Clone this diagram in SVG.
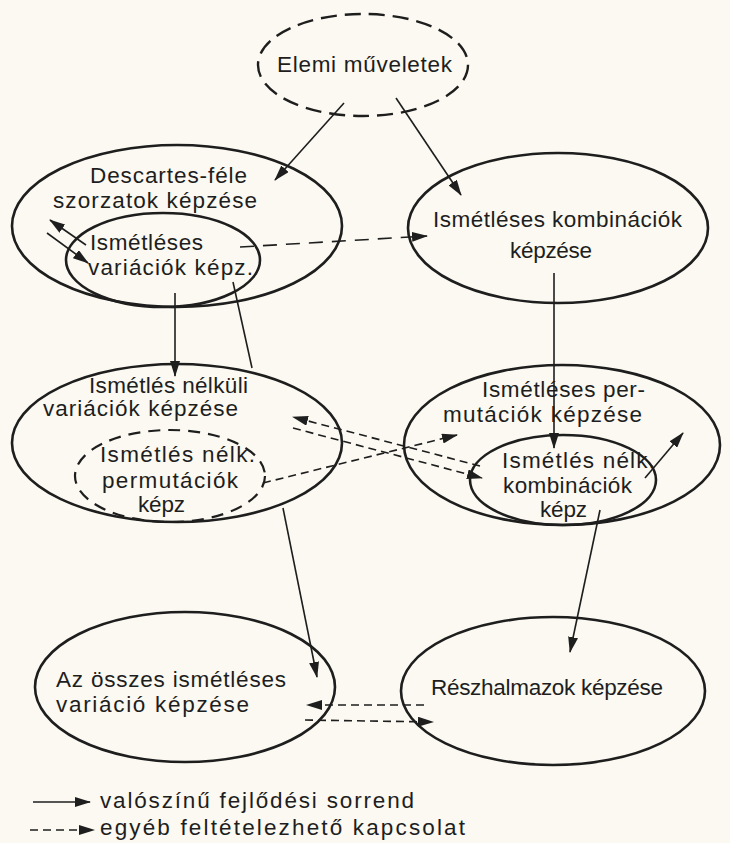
<svg xmlns="http://www.w3.org/2000/svg" width="730" height="843" viewBox="0 0 730 843">
<defs>
<style>
.bg{fill:#fbf9f1}
.n{fill:none;stroke:#1e1e1e;stroke-width:2.6}
.nd{fill:none;stroke:#1e1e1e;stroke-width:2.4;stroke-dasharray:16 8}
.nd2{fill:none;stroke:#1e1e1e;stroke-width:2.2;stroke-dasharray:12 8}
.c{fill:none;stroke:#1e1e1e;stroke-width:1.6;marker-end:url(#ah)}
.p{fill:none;stroke:#1e1e1e;stroke-width:1.6}
.cd{fill:none;stroke:#1e1e1e;stroke-width:1.6;stroke-dasharray:14 9;marker-end:url(#ah)}
.cs{fill:none;stroke:#1e1e1e;stroke-width:1.6;stroke-dasharray:8 5;marker-end:url(#ah)}
text{font-family:"Liberation Sans","DejaVu Sans",Arial,sans-serif;font-size:22.5px;fill:#1e1e1e}
</style>
<marker id="ah" markerUnits="userSpaceOnUse" markerWidth="16" markerHeight="10" refX="15" refY="5" orient="auto">
<path d="M0,0 L16,5 L0,10 z" fill="#1e1e1e"/>
</marker>
</defs>
<rect class="bg" x="0" y="0" width="730" height="843"/>

<g id="elemi">
<ellipse class="nd" cx="363" cy="65" rx="105" ry="51"/>
<text x="277" y="72" textLength="175" lengthAdjust="spacing">Elemi műveletek</text>
</g>

<g id="descartes">
<ellipse class="n" cx="177" cy="226" rx="165" ry="81"/>
<text x="90" y="183" textLength="157" lengthAdjust="spacing">Descartes-féle</text>
<text x="53" y="208" textLength="204" lengthAdjust="spacing">szorzatok képzése</text>
</g>

<g id="ism-variaciok">
<ellipse class="n" cx="163" cy="260" rx="97" ry="47"/>
<text x="90" y="250" textLength="113" lengthAdjust="spacing">Ismétléses</text>
<text x="88" y="275" textLength="165" lengthAdjust="spacing">variációk képz.</text>
</g>

<g id="ism-kombinaciok">
<ellipse class="n" cx="558" cy="228" rx="150" ry="75"/>
<text x="433" y="227" textLength="249" lengthAdjust="spacing">Ismétléses kombinációk</text>
<text x="510" y="258" textLength="82" lengthAdjust="spacing">képzése</text>
</g>

<g id="nelkuli-variaciok">
<ellipse class="n" cx="177" cy="443" rx="165" ry="79"/>
<text x="89" y="393" textLength="159" lengthAdjust="spacing">Ismétlés nélküli</text>
<text x="43" y="416" textLength="195" lengthAdjust="spacing">variációk képzése</text>
</g>

<g id="nelk-permutaciok">
<ellipse class="nd2" cx="170" cy="476" rx="95" ry="46"/>
<text x="100" y="462" textLength="155" lengthAdjust="spacing">Ismétlés nélk.</text>
<text x="102" y="488" textLength="136" lengthAdjust="spacing">permutációk</text>
<text x="138" y="512" textLength="47" lengthAdjust="spacing">képz</text>
</g>

<g id="ism-permutaciok">
<ellipse class="n" cx="562" cy="445" rx="158" ry="80"/>
<text x="482" y="397" textLength="163" lengthAdjust="spacing">Ismétléses per-</text>
<text x="443" y="422" textLength="199" lengthAdjust="spacing">mutációk képzése</text>
</g>

<g id="nelk-kombinaciok">
<ellipse class="n" cx="563" cy="480" rx="93" ry="45"/>
<text x="502" y="468" textLength="153" lengthAdjust="spacing">Ismétlés nélk.</text>
<text x="503" y="493" textLength="129" lengthAdjust="spacing">kombinációk</text>
<text x="540" y="517" textLength="47" lengthAdjust="spacing">képz</text>
</g>

<g id="osszes">
<ellipse class="n" cx="185" cy="687" rx="150" ry="75"/>
<text x="56" y="687" textLength="230" lengthAdjust="spacing">Az összes ismétléses</text>
<text x="56" y="712" textLength="193" lengthAdjust="spacing">variáció képzése</text>
</g>

<g id="reszhalmazok">
<ellipse class="n" cx="553" cy="691" rx="152" ry="74"/>
<text x="431" y="695" textLength="232" lengthAdjust="spacing">Részhalmazok képzése</text>
</g>

<g id="connectors">
<line class="c" x1="344" y1="103" x2="275" y2="180"/>
<line class="c" x1="396" y1="98" x2="461" y2="195"/>
<line class="c" x1="86" y1="245" x2="50" y2="220"/>
<line class="c" x1="47" y1="233" x2="88" y2="263"/>
<line class="cd" x1="240" y1="247" x2="427" y2="236"/>
<line class="c" x1="175" y1="293" x2="175" y2="376"/>
<line class="p" x1="233" y1="282" x2="252" y2="368"/>
<line class="c" x1="554" y1="273" x2="554" y2="448"/>
<line class="cs" x1="480" y1="466" x2="293" y2="417"/>
<line class="cs" x1="293" y1="428" x2="482" y2="478"/>
<line class="cs" x1="263" y1="483" x2="457" y2="435"/>
<line class="c" x1="645" y1="478" x2="683" y2="433"/>
<line class="c" x1="283" y1="508" x2="317" y2="677"/>
<line class="c" x1="600" y1="510" x2="570" y2="652"/>
<line class="cs" x1="424" y1="705" x2="307" y2="705"/>
<line class="cs" x1="305" y1="720" x2="433" y2="722"/>
</g>

<g id="legend">
<line class="c" x1="33" y1="802" x2="90" y2="802"/>
<text x="100" y="808" textLength="314" lengthAdjust="spacing">valószínű fejlődési sorrend</text>
<line class="cs" x1="30" y1="830" x2="94" y2="830"/>
<text x="100" y="835" textLength="365" lengthAdjust="spacing">egyéb feltételezhető kapcsolat</text>
</g>
</svg>
